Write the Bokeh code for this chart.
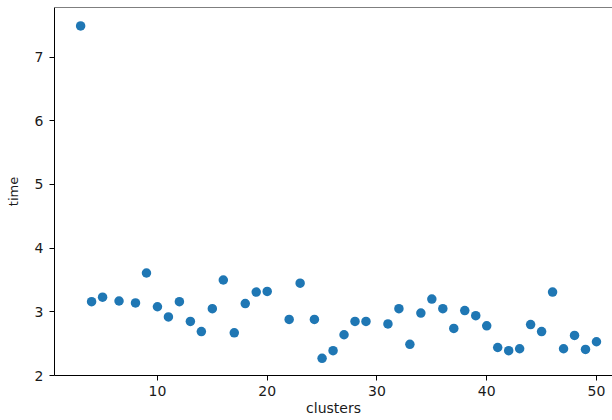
from bokeh.plotting import figure
from bokeh.models import Range1d, Span, FixedTicker
from bokeh.embed import file_html
from bokeh.resources import INLINE

clusters = [3, 4, 5, 6.5, 8, 9, 10, 11, 12, 13, 14, 15, 16, 17, 18, 19, 20,
            22, 23, 24.3, 25, 26, 27, 28, 29, 31, 32, 33, 34, 35, 36, 37, 38,
            39, 40, 41, 42, 43, 44, 45, 46, 47, 48, 49, 50]
time = [7.49, 3.16, 3.23, 3.17, 3.14, 3.61, 3.08, 2.92, 3.16, 2.85, 2.69,
        3.05, 3.50, 2.67, 3.13, 3.31, 3.32, 2.88, 3.45, 2.88, 2.27, 2.39,
        2.64, 2.85, 2.85, 2.81, 3.05, 2.49, 2.98, 3.20, 3.05, 2.74, 3.02,
        2.94, 2.78, 2.44, 2.39, 2.42, 2.80, 2.69, 3.31, 2.42, 2.63, 2.41, 2.53]
x_ticks = [10, 20, 30, 40, 50]
y_ticks = [2, 3, 4, 5, 6, 7]

FONT = "DejaVu Sans"
TXT = "#1a1a1a"

p = figure(width=612, height=420, output_backend="svg", toolbar_location=None,
           x_range=Range1d(0.62, 51.46), y_range=Range1d(2.0, 7.78),
           min_border_left=54, min_border_right=0, min_border_top=7,
           min_border_bottom=45)
p.outline_line_color = None
p.grid.visible = False
p.background_fill_color = "white"
p.border_fill_color = "white"

p.scatter(clusters, time, size=9.5, color="#1f77b4", line_color=None)

for ax in (p.xaxis[0], p.yaxis[0]):
    ax.axis_line_color = "black"
    ax.axis_line_width = 1
    ax.major_tick_line_color = "black"
    ax.major_tick_in = 0
    ax.major_tick_out = 5
    ax.minor_tick_line_color = None
    ax.major_label_text_font = FONT
    ax.major_label_text_font_size = "14px"
    ax.major_label_text_color = TXT
    ax.axis_label_text_font = FONT
    ax.axis_label_text_font_style = "normal"
    ax.axis_label_text_color = TXT

p.xaxis.ticker = FixedTicker(ticks=x_ticks)
p.yaxis.ticker = FixedTicker(ticks=y_ticks)
p.xaxis.major_label_standoff = 5
p.yaxis.major_label_standoff = 6

p.yaxis.axis_label = "time"
p.yaxis.axis_label_text_font_size = "13px"
p.yaxis.axis_label_standoff = 11

p.xaxis.axis_label = "clusters"
p.xaxis.axis_label_text_font_size = "14px"
p.xaxis.axis_label_standoff = 1

top = Span(location=7.78, dimension="width", line_color="black", line_width=1.2)
p.add_layout(top)

open("out.html", "w").write(file_html(p, INLINE))
